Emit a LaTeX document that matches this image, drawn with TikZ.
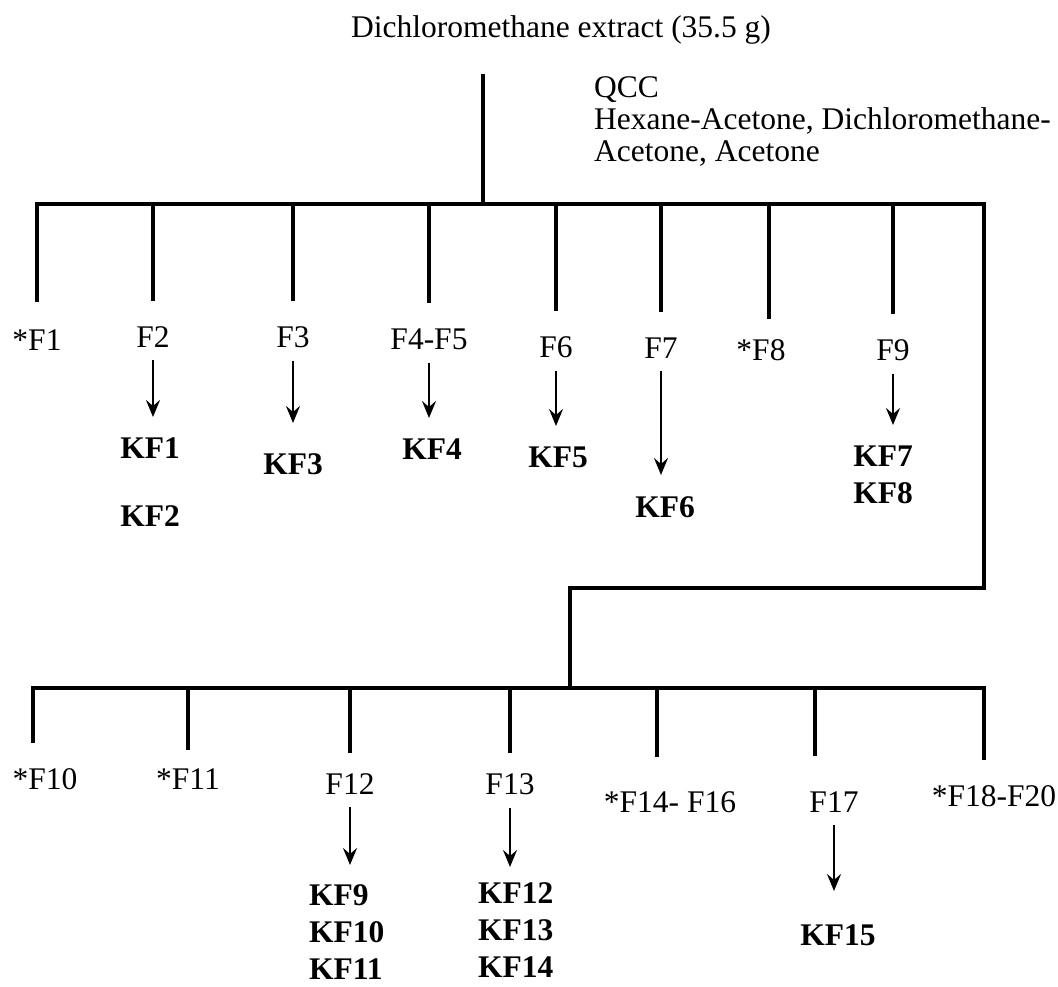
\documentclass[tikz,border=0pt]{standalone}
\usepackage{xcolor}
\usepackage{fontspec}
\setmainfont{Liberation Serif}
\usepackage{tikz}
\usetikzlibrary{arrows.meta}

\begin{document}
\begin{tikzpicture}[
  x=1pt,
  y=-1pt,
  every node/.style={inner sep=2pt, font=\fontsize{31.5}{32}\selectfont},
  frac/.style={anchor=base},
  kf/.style={anchor=north, align=left, font=\fontsize{31.5}{37}\selectfont\bfseries},
  branch/.style={line width=3.6pt},
  drop/.style={line width=3.4pt, shorten >=23pt},
  arr/.style={-{Stealth[length=17pt,width=14pt,inset=6pt]}, line width=2.3pt, shorten <=11pt, shorten >=19pt}
]
\useasboundingbox (0,0) rectangle (1058,987);

\node[anchor=base] (title) at (561,38) {Dichloromethane extract (35.5 g)};
\node[anchor=north west, align=left] (qcc) at (592,74)
  {QCC\\Hexane-Acetone, Dichloromethane-\\Acetone, Acetone};

% first column fractions
\node[frac] (f1) at (37,350) {*F1};
\node[frac] (f2) at (153,347) {F2};
\node[frac] (f3) at (293,347) {F3};
\node[frac] (f45) at (429,349) {F4-F5};
\node[frac] (f6) at (556,357) {F6};
\node[frac] (f7) at (661,358) {F7};
\node[frac] (f8) at (761,360) {*F8};
\node[frac] (f9) at (893,360) {F9};

\node[kf] (kf1) at (150,436) {KF1\\[31pt]KF2};
\node[kf] (kf3) at (293,451) {KF3};
\node[kf] (kf4) at (432,437) {KF4};
\node[kf] (kf5) at (558,445) {KF5};
\node[kf] (kf6) at (665,494) {KF6};
\node[kf] (kf7) at (883,444) {KF7\\KF8};

% second column fractions
\node[frac] (f10) at (45,789) {*F10};
\node[frac] (f11) at (188,789) {*F11};
\node[frac] (f12) at (350,794) {F12};
\node[frac] (f13) at (510,794) {F13};
\node[frac] (f1416) at (670,812) {*F14- F16};
\node[frac] (f17) at (834,812) {F17};
\node[frac] (f1820) at (994,806) {*F18-F20};

\node[kf, anchor=north west] (kf9) at (307,882) {KF9\\KF10\\KF11};
\node[kf, anchor=north west] (kf12) at (476,880) {KF12\\KF13\\KF14};
\node[kf] (kf15) at (838,922) {KF15};

\coordinate (hub) at (483,204);
\coordinate (tr) at (984,204);
\coordinate (jog) at (570,588);
\coordinate (hub2) at (570,688);
\coordinate (br) at (984,688);

% trunk, top bar and the link down to the second bar
\draw[branch, shorten <=27pt] (hub |- title.south) -- (hub);
\draw[branch, shorten <=25pt] (f1.north) |- (tr) |- (jog) -- (hub2);
\draw[drop] (f2.north |- hub) -- (f2.north);
\draw[drop] (f3.north |- hub) -- (f3.north);
\draw[drop] (f45.north |- hub) -- (f45.north);
\draw[drop] (f6.north |- hub) -- (f6.north);
\draw[drop] (f7.north |- hub) -- (f7.north);
\draw[drop, shorten >=18pt] ([xshift=8pt]f8.north |- hub) -- ([xshift=8pt]f8.north);
\draw[drop] (f9.north |- hub) -- (f9.north);

\draw[branch, shorten <=23pt, shorten >=23pt] ([xshift=-12pt]f10.north) |- (br) -- (br |- f1820.north);
\draw[drop, shorten >=16pt] (f11.north |- hub2) -- (f11.north);
\draw[drop, shorten >=18pt] (f12.north |- hub2) -- (f12.north);
\draw[drop, shorten >=18pt] (f13.north |- hub2) -- (f13.north);
\draw[drop, shorten >=32pt] ([xshift=-13pt]f1416.north |- hub2) -- ([xshift=-13pt]f1416.north);
\draw[drop, shorten >=33pt] ([xshift=-19pt]f17.north |- hub2) -- ([xshift=-19pt]f17.north);

% fractions to isolated compounds
\draw[arr] (f2.south) -- (f2.south |- kf1.north);
\draw[arr, shorten >=28pt] (f3.south) -- (f3.south |- kf3.north);
\draw[arr] (f45.south) -- (f45.south |- kf4.north);
\draw[arr] (f6.south) -- (f6.south |- kf5.north);
\draw[arr] (f7.south) -- (f7.south |- kf6.north);
\draw[arr] (f9.south) -- (f9.south |- kf7.north);
\draw[arr, shorten >=17pt] (f12.south) -- (f12.south |- kf9.north);
\draw[arr, shorten >=13pt] (f13.south) -- (f13.south |- kf12.north);
\draw[arr, shorten >=31pt] (f17.south) -- (f17.south |- kf15.north);
\end{tikzpicture}
\end{document}
